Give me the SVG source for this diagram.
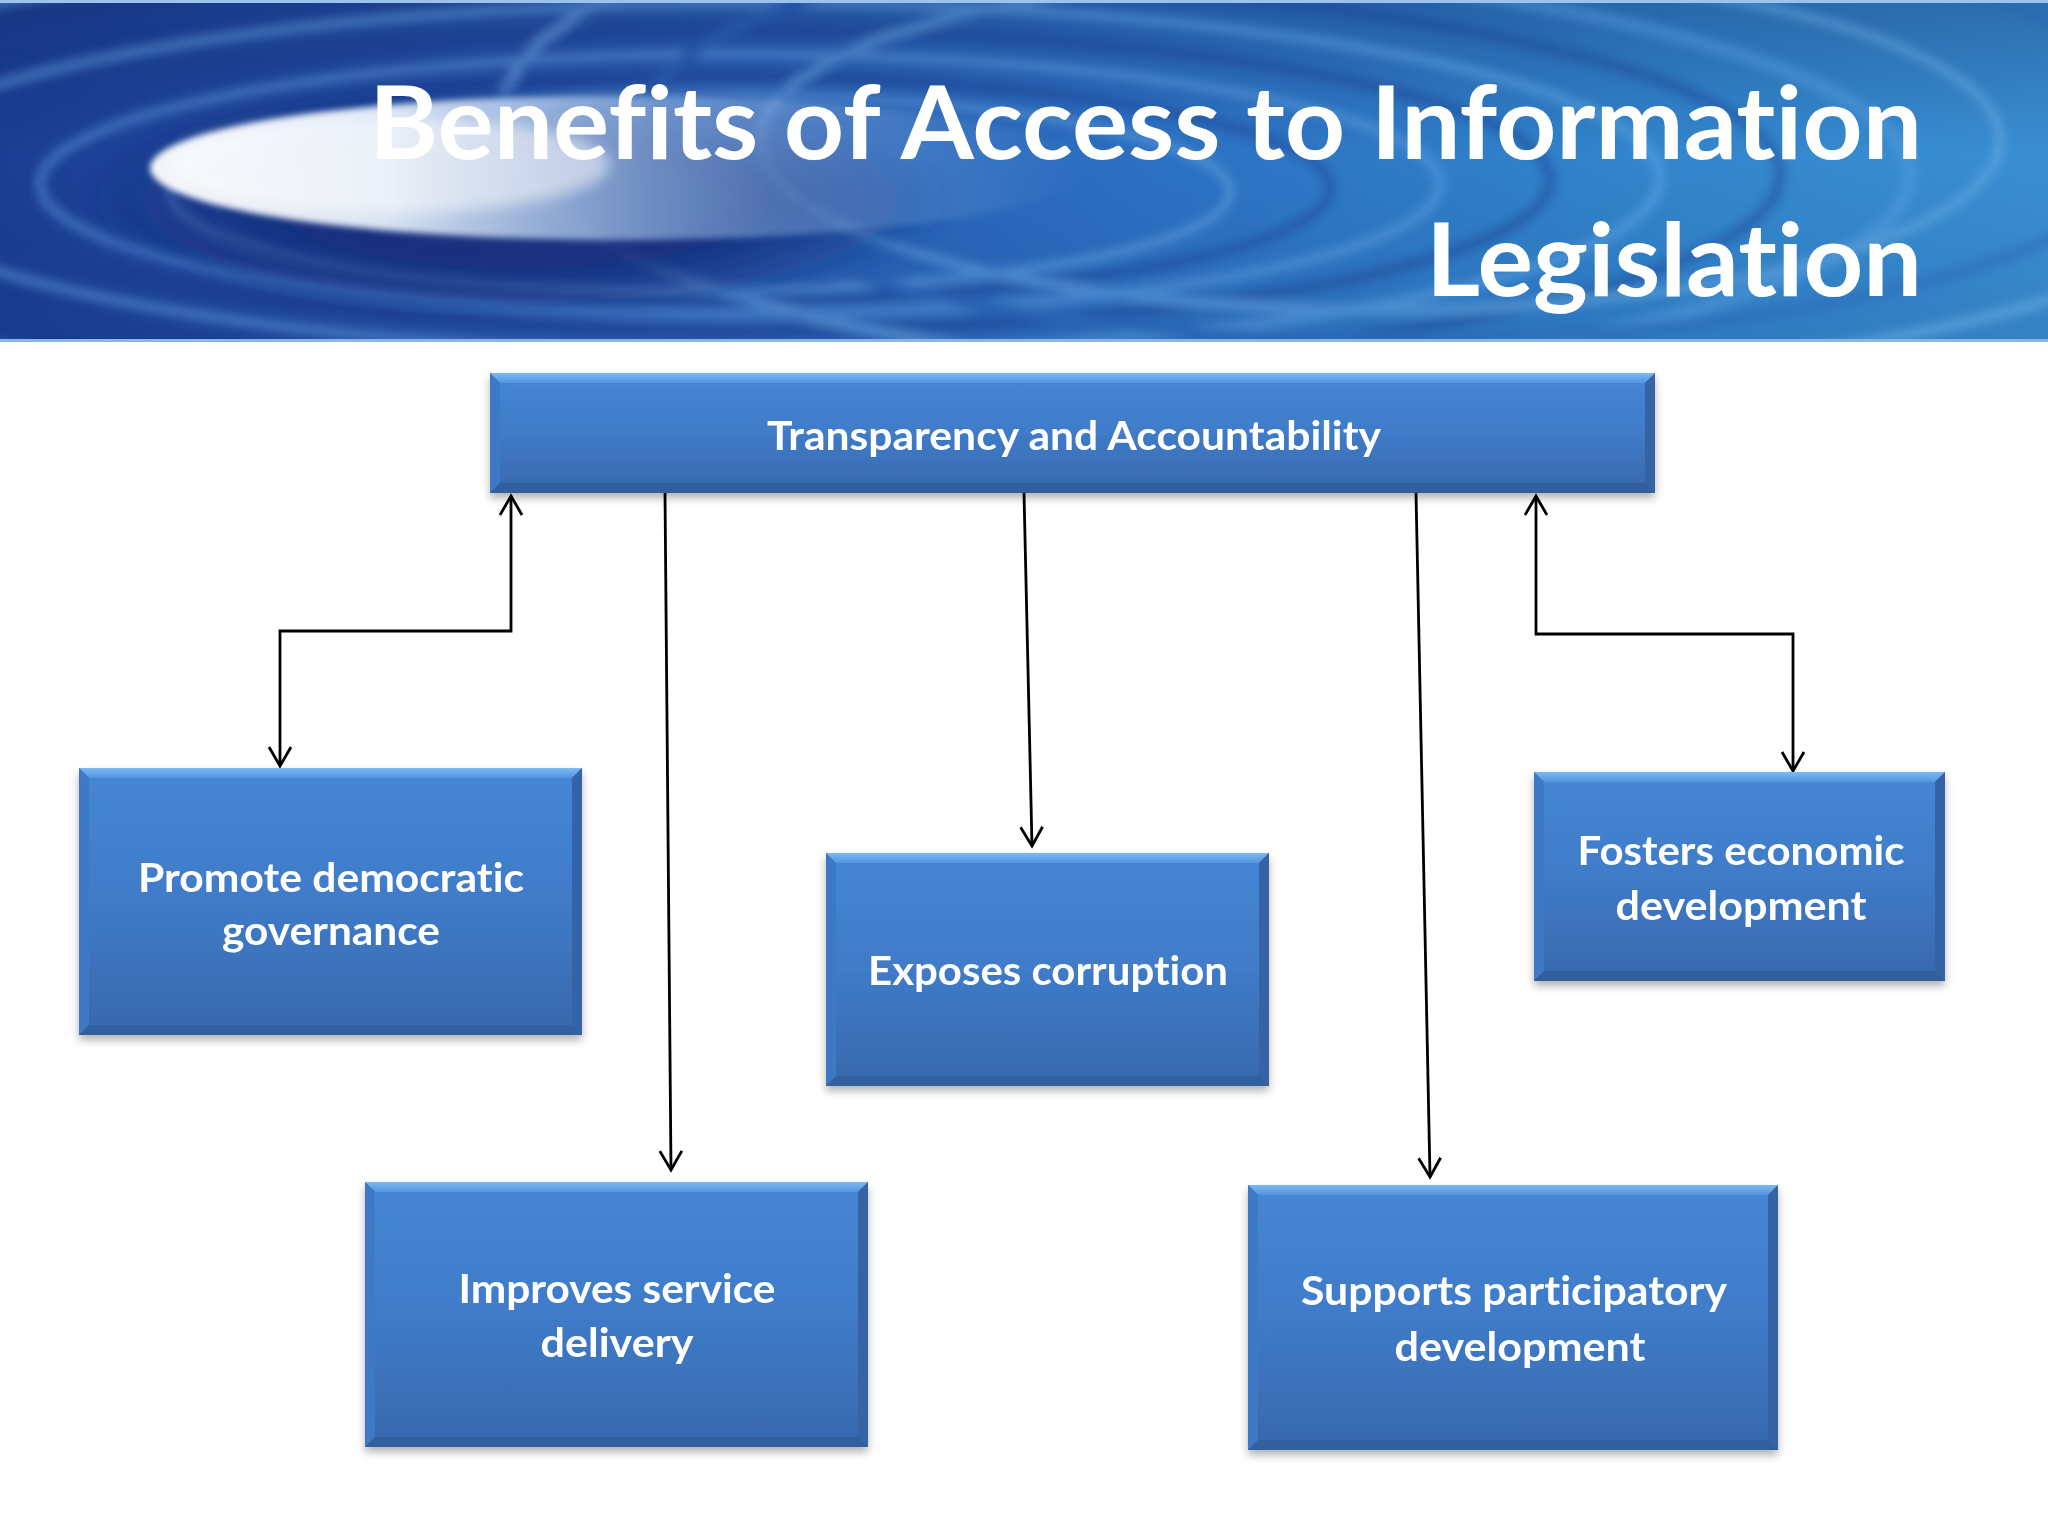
<svg xmlns="http://www.w3.org/2000/svg" width="2048" height="1536" viewBox="0 0 2048 1536">
  <style>
    .lbl { font-family: "Lato", "Open Sans", "Liberation Sans", sans-serif; font-weight: 700; fill: #ffffff; text-anchor: middle; font-variant-ligatures: none; font-feature-settings: "liga" 0, "clig" 0, "dlig" 0; }
    .box-lbl { font-size: 41px; }
    .title { font-family: "Lato", "Open Sans", "Liberation Sans", sans-serif; font-weight: 700; fill: #ffffff; font-size: 101px; text-anchor: end; font-variant-ligatures: none; font-feature-settings: "liga" 0, "clig" 0, "dlig" 0; }
    .b-main { fill: url(#boxMain); }
    .b-top { fill: url(#boxTop); }
    .b-left { fill: #3d79c5; }
    .b-right { fill: #3464a6; }
    .b-bottom { fill: #30609f; }
    .conn { fill: none; stroke: #000000; stroke-width: 2.8; }
    .ring { fill: none; }
  </style>
  <defs>
    <clipPath id="bannerClip">
      <rect x="0" y="0" width="2048" height="342"/>
    </clipPath>
    <linearGradient id="bannerBase" x1="0" y1="0" x2="1" y2="0">
      <stop offset="0" stop-color="#1b3e94"/>
      <stop offset="0.25" stop-color="#2552aa"/>
      <stop offset="0.55" stop-color="#2c70c2"/>
      <stop offset="0.8" stop-color="#3285cc"/>
      <stop offset="1" stop-color="#3a8fd2"/>
    </linearGradient>
    <linearGradient id="bannerV" x1="0" y1="0" x2="0" y2="1">
      <stop offset="0" stop-color="#0d1f5a" stop-opacity="0.3"/>
      <stop offset="0.45" stop-color="#0d1f5a" stop-opacity="0"/>
      <stop offset="1" stop-color="#0d1f5a" stop-opacity="0.12"/>
    </linearGradient>
    <linearGradient id="glowFill" x1="0" y1="0" x2="1" y2="0">
      <stop offset="0" stop-color="#ffffff" stop-opacity="0.95"/>
      <stop offset="0.25" stop-color="#eef6ff" stop-opacity="0.9"/>
      <stop offset="0.55" stop-color="#a9cdf2" stop-opacity="0.55"/>
      <stop offset="1" stop-color="#7fb4ea" stop-opacity="0"/>
    </linearGradient>
    <radialGradient id="rimFill" cx="0.5" cy="0.5" r="0.5">
      <stop offset="0.55" stop-color="#142c7a" stop-opacity="0.85"/>
      <stop offset="1" stop-color="#142c7a" stop-opacity="0"/>
    </radialGradient>
    <filter id="soft" x="-20%" y="-50%" width="140%" height="200%">
      <feGaussianBlur stdDeviation="7"/>
    </filter>
    <filter id="soft2" x="-20%" y="-50%" width="140%" height="200%">
      <feGaussianBlur stdDeviation="3"/>
    </filter>
    <filter id="soft3" x="-20%" y="-50%" width="140%" height="200%">
      <feGaussianBlur stdDeviation="5"/>
    </filter>
    <filter id="shadow" x="-10%" y="-10%" width="120%" height="130%">
      <feDropShadow dx="0" dy="5" stdDeviation="4" flood-color="#000000" flood-opacity="0.3"/>
    </filter>
    <linearGradient id="boxMain" x1="0" y1="0" x2="0" y2="1">
      <stop offset="0" stop-color="#4587d5"/>
      <stop offset="0.5" stop-color="#3f7bc8"/>
      <stop offset="1" stop-color="#3868ad"/>
    </linearGradient>
    <linearGradient id="boxTop" x1="0" y1="0" x2="0" y2="1">
      <stop offset="0" stop-color="#7cbaf3"/>
      <stop offset="1" stop-color="#5394de"/>
    </linearGradient>
    <marker id="arr" viewBox="0 0 22 24" refX="20" refY="12" markerWidth="22" markerHeight="24" markerUnits="userSpaceOnUse" orient="auto-start-reverse" overflow="visible">
      <path d="M1,1 L20,12 L1,23" fill="none" stroke="#000000" stroke-width="2.8"/>
    </marker>
  </defs>

  <rect x="0" y="0" width="2048" height="1536" fill="#ffffff"/>

  <g id="banner">
    <g clip-path="url(#bannerClip)">
      <rect x="0" y="0" width="2048" height="342" fill="url(#bannerBase)"/>
      <rect x="0" y="0" width="2048" height="342" fill="url(#bannerV)"/>
      <g filter="url(#soft3)" opacity="0.4">
        <ellipse class="ring" cx="760" cy="175" rx="1150" ry="230" stroke="#5fa3e6" stroke-width="14"/>
        <ellipse class="ring" cx="760" cy="175" rx="1020" ry="200" stroke="#1c3d8f" stroke-width="12"/>
        <ellipse class="ring" cx="760" cy="178" rx="900" ry="175" stroke="#6aaee9" stroke-width="12"/>
        <ellipse class="ring" cx="750" cy="180" rx="800" ry="150" stroke="#1b3a8c" stroke-width="12"/>
        <ellipse class="ring" cx="740" cy="184" rx="700" ry="130" stroke="#6aa9e6" stroke-width="11"/>
        <ellipse class="ring" cx="720" cy="188" rx="610" ry="112" stroke="#1a3888" stroke-width="10"/>
        <ellipse class="ring" cx="700" cy="192" rx="530" ry="98" stroke="#7ab5ea" stroke-width="9"/>
        <ellipse class="ring" cx="1400" cy="120" rx="900" ry="260" stroke="#7fbbee" stroke-width="12"/>
        <ellipse class="ring" cx="1400" cy="130" rx="760" ry="210" stroke="#2a62b4" stroke-width="12"/>
        <ellipse class="ring" cx="1380" cy="140" rx="620" ry="170" stroke="#7db8ec" stroke-width="10"/>
      </g>
      <ellipse cx="520" cy="200" rx="440" ry="120" fill="url(#rimFill)" filter="url(#soft)"/>
      <ellipse cx="620" cy="168" rx="470" ry="72" fill="url(#glowFill)" filter="url(#soft2)"/>
      <ellipse cx="390" cy="165" rx="220" ry="48" fill="#ffffff" opacity="0.5" filter="url(#soft)"/>
      <rect x="0" y="0" width="2048" height="3" fill="#9cc3ee"/>
      <rect x="0" y="339" width="2048" height="3" fill="#8ab6e6"/>
    </g>
    <text class="title" x="1922" y="159" textLength="1553" lengthAdjust="spacingAndGlyphs">Benefits of Access to Information</text>
    <text class="title" x="1922" y="296" textLength="496" lengthAdjust="spacingAndGlyphs">Legislation</text>
  </g>

  <g id="connectors">
    <path class="conn" d="M511,496 L511,631 L280,631 L280,766" marker-start="url(#arr)" marker-end="url(#arr)"/>
    <path class="conn" d="M665,493 L671,1170" marker-end="url(#arr)"/>
    <path class="conn" d="M1024,493 L1032,846" marker-end="url(#arr)"/>
    <path class="conn" d="M1416,493 L1430,1177" marker-end="url(#arr)"/>
    <path class="conn" d="M1536,496 L1536,634 L1793,634 L1793,771" marker-start="url(#arr)" marker-end="url(#arr)"/>
  </g>

  <g id="node-transparency" filter="url(#shadow)">
    <rect class="b-main" x="490" y="373" width="1165" height="120"/>
    <polygon class="b-top" points="490,373 1655,373 1645,383 500,383"/>
    <polygon class="b-left" points="490,373 500,383 500,483 490,493"/>
    <polygon class="b-right" points="1655,373 1655,493 1645,483 1645,383"/>
    <polygon class="b-bottom" points="490,493 500,483 1645,483 1655,493"/>
    <text class="lbl box-lbl" x="1074" y="450" textLength="614" lengthAdjust="spacingAndGlyphs">Transparency and Accountability</text>
  </g>

  <g id="node-promote" filter="url(#shadow)">
    <rect class="b-main" x="79" y="768" width="503" height="267"/>
    <polygon class="b-top" points="79,768 582,768 572,778 89,778"/>
    <polygon class="b-left" points="79,768 89,778 89,1025 79,1035"/>
    <polygon class="b-right" points="582,768 582,1035 572,1025 572,778"/>
    <polygon class="b-bottom" points="79,1035 89,1025 572,1025 582,1035"/>
    <text class="lbl box-lbl" x="331" y="892" textLength="386" lengthAdjust="spacingAndGlyphs">Promote democratic</text>
    <text class="lbl box-lbl" x="331" y="945" textLength="218" lengthAdjust="spacingAndGlyphs">governance</text>
  </g>

  <g id="node-exposes" filter="url(#shadow)">
    <rect class="b-main" x="826" y="853" width="443" height="233"/>
    <polygon class="b-top" points="826,853 1269,853 1259,863 836,863"/>
    <polygon class="b-left" points="826,853 836,863 836,1076 826,1086"/>
    <polygon class="b-right" points="1269,853 1269,1086 1259,1076 1259,863"/>
    <polygon class="b-bottom" points="826,1086 836,1076 1259,1076 1269,1086"/>
    <text class="lbl box-lbl" x="1048" y="985" textLength="360" lengthAdjust="spacingAndGlyphs">Exposes corruption</text>
  </g>

  <g id="node-fosters" filter="url(#shadow)">
    <rect class="b-main" x="1534" y="772" width="411" height="209"/>
    <polygon class="b-top" points="1534,772 1945,772 1935,782 1544,782"/>
    <polygon class="b-left" points="1534,772 1544,782 1544,971 1534,981"/>
    <polygon class="b-right" points="1945,772 1945,981 1935,971 1935,782"/>
    <polygon class="b-bottom" points="1534,981 1544,971 1935,971 1945,981"/>
    <text class="lbl box-lbl" x="1741" y="865" textLength="327" lengthAdjust="spacingAndGlyphs">Fosters economic</text>
    <text class="lbl box-lbl" x="1741" y="920" textLength="251" lengthAdjust="spacingAndGlyphs">development</text>
  </g>

  <g id="node-improves" filter="url(#shadow)">
    <rect class="b-main" x="365" y="1182" width="503" height="265"/>
    <polygon class="b-top" points="365,1182 868,1182 858,1192 375,1192"/>
    <polygon class="b-left" points="365,1182 375,1192 375,1437 365,1447"/>
    <polygon class="b-right" points="868,1182 868,1447 858,1437 858,1192"/>
    <polygon class="b-bottom" points="365,1447 375,1437 858,1437 868,1447"/>
    <text class="lbl box-lbl" x="617" y="1303" textLength="317" lengthAdjust="spacingAndGlyphs">Improves service</text>
    <text class="lbl box-lbl" x="617" y="1357" textLength="153" lengthAdjust="spacingAndGlyphs">delivery</text>
  </g>

  <g id="node-supports" filter="url(#shadow)">
    <rect class="b-main" x="1248" y="1185" width="530" height="265"/>
    <polygon class="b-top" points="1248,1185 1778,1185 1768,1195 1258,1195"/>
    <polygon class="b-left" points="1248,1185 1258,1195 1258,1440 1248,1450"/>
    <polygon class="b-right" points="1778,1185 1778,1450 1768,1440 1768,1195"/>
    <polygon class="b-bottom" points="1248,1450 1258,1440 1768,1440 1778,1450"/>
    <text class="lbl box-lbl" x="1514" y="1305" textLength="426" lengthAdjust="spacingAndGlyphs">Supports participatory</text>
    <text class="lbl box-lbl" x="1520" y="1361" textLength="251" lengthAdjust="spacingAndGlyphs">development</text>
  </g>
</svg>
